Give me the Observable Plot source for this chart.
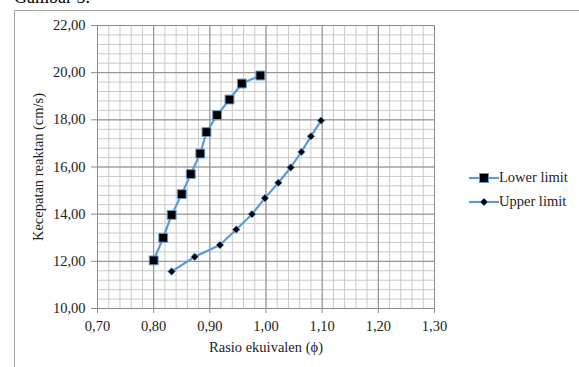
<!DOCTYPE html>
<html><head><meta charset="utf-8">
<script src="https://cdn.jsdelivr.net/npm/d3@7"></script>
<script src="https://cdn.jsdelivr.net/npm/@observablehq/plot@0.6"></script>
<style>
html,body{margin:0;padding:0;background:#fff;overflow:hidden;}
#wrap{position:relative;width:579px;height:367px;overflow:hidden;font-family:"Liberation Serif","DejaVu Serif",serif;color:#222;}
#chart{position:absolute;left:0;top:0;}
#chart svg, #chart svg text{font-family:"Liberation Serif","DejaVu Serif",serif !important;}
#frame{position:absolute;left:14px;top:10px;width:700px;height:500px;border:1px solid #a6a6a6;pointer-events:none;}
#title{position:absolute;left:14px;top:-12px;font-size:18px;line-height:18px;color:#000;white-space:nowrap;font-family:"Liberation Serif","DejaVu Serif",serif;}
#legend{position:absolute;left:469px;top:165.5px;font-size:14.5px;font-family:"Liberation Serif","DejaVu Serif",serif;}
.row{display:flex;align-items:center;height:24px;white-space:nowrap;}
.row svg{display:block;}
</style></head><body>
<div id="wrap"><div id="title">Gambar 5.</div><div id="chart"></div><div id="legend"></div><div id="frame"></div></div>
<script>
const seriesNames = ["Lower limit", "Upper limit"];
const lowerX = [0.800, 0.817, 0.832, 0.850, 0.866, 0.883, 0.894, 0.913, 0.935, 0.957, 0.990];
const lowerY = [12.04, 13.00, 13.97, 14.85, 15.70, 16.57, 17.48, 18.20, 18.86, 19.54, 19.88];
const upperX = [0.832, 0.873, 0.918, 0.947, 0.975, 0.998, 1.022, 1.044, 1.063, 1.080, 1.098];
const upperY = [11.57, 12.19, 12.69, 13.35, 14.00, 14.68, 15.33, 15.98, 16.64, 17.30, 17.97];
const xTicks = [0.70, 0.80, 0.90, 1.00, 1.10, 1.20, 1.30];
const yTicks = [10, 12, 14, 16, 18, 20, 22];
const xLabel = "Rasio ekuivalen (ϕ)";
const yLabel = "Kecepatan reaktan (cm/s)";

const blue = "#5b9bd5";
const serif = "Liberation Serif";
const lower = lowerX.map((x, i) => ({x, y: lowerY[i]}));
const upper = upperX.map((x, i) => ({x, y: upperY[i]}));
const xMinor = d3.range(0, 31).map(i => +(0.70 + i * 0.02).toFixed(2));
const yMinor = d3.range(0, 31).map(i => +(10 + i * 0.4).toFixed(2));
const fmt = d => d3.format(".2f")(d).replace(".", ",");

const chart = Plot.plot({
  width: 579, height: 367,
  marginLeft: 97, marginRight: 145, marginTop: 25, marginBottom: 59,
  style: {background: "transparent", fontFamily: serif, fontSize: "14.5px", color: "#222", overflow: "visible"},
  x: {domain: [0.7, 1.3]},
  y: {domain: [10, 22]},
  marks: [
    Plot.ruleX(xMinor, {stroke: "#c9c9c9", strokeWidth: 1}),
    Plot.ruleY(yMinor, {stroke: "#c9c9c9", strokeWidth: 1}),
    Plot.ruleX(xTicks, {stroke: "#8c8c8c", strokeWidth: 1}),
    Plot.ruleY(yTicks, {stroke: "#8c8c8c", strokeWidth: 1}),
    Plot.axisX({ticks: xTicks, tickFormat: fmt, tickSize: 5, tickPadding: 7, stroke: "#8c8c8c", label: null, fontFamily: serif, fontSize: 14.5}),
    Plot.axisY({ticks: yTicks, tickFormat: fmt, tickSize: 6, tickPadding: 6, stroke: "#8c8c8c", label: null, fontFamily: serif, fontSize: 14.5}),
    Plot.line(lower, {x: "x", y: "y", stroke: blue, strokeWidth: 2.2}),
    Plot.line(upper, {x: "x", y: "y", stroke: blue, strokeWidth: 2.2}),
    Plot.dot(lower, {x: "x", y: "y", symbol: "square", r: 5, fill: "#000", stroke: blue, strokeWidth: 1}),
    Plot.dot(upper, {x: "x", y: "y", symbol: "diamond2", r: 3.4, fill: "#000", stroke: blue, strokeWidth: 0.8}),
    Plot.text([xLabel], {frameAnchor: "bottom", dy: 39, textAnchor: "middle", lineAnchor: "middle", fill: "#222", fontSize: 14.5, fontFamily: serif}),
    Plot.text([yLabel], {frameAnchor: "left", dx: -59, rotate: -90, textAnchor: "middle", lineAnchor: "middle", fill: "#222", fontSize: 14.5, fontFamily: serif})
  ]
});
document.getElementById("chart").appendChild(chart);

const legend = document.getElementById("legend");
seriesNames.forEach((name, i) => {
  const row = document.createElement("div");
  row.className = "row";
  const marker = i === 0
    ? `<rect x="10.5" y="1.5" width="9" height="9" fill="#000" stroke="${blue}" stroke-width="1"/>`
    : `<polygon points="15,2.2 18.8,6 15,9.8 11.2,6" fill="#000" stroke="${blue}" stroke-width="0.8"/>`;
  row.innerHTML = `<svg width="30" height="12"><line x1="0" x2="30" y1="6" y2="6" stroke="${blue}" stroke-width="2.2"/>${marker}</svg><span>${name}</span>`;
  legend.appendChild(row);
});
</script>
</body></html>
